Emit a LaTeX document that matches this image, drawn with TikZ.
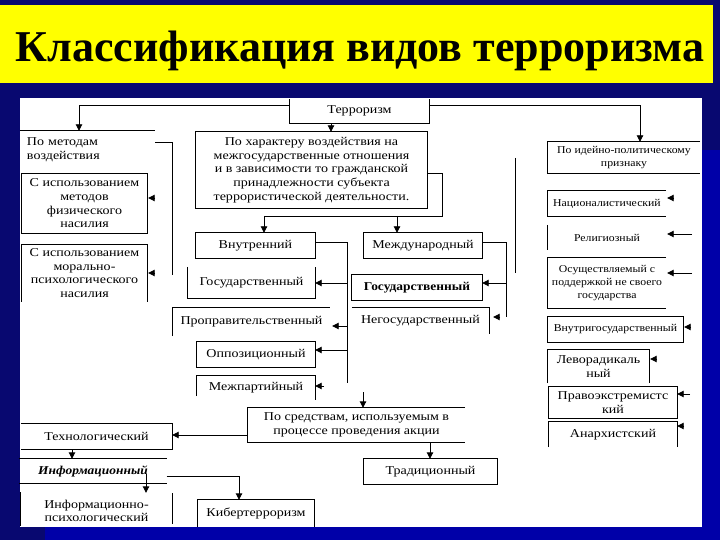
\documentclass[tikz,border=0pt]{standalone}
\usepackage{fontspec}
\setmainfont{Liberation Serif}
\newfontfamily\dgA[FakeStretch=1.17]{Liberation Serif}
\newfontfamily\dgB[FakeStretch=1.12]{Liberation Serif}
\usetikzlibrary{arrows.meta,calc}
\definecolor{navy}{RGB}{8,8,112}
\definecolor{bblue}{RGB}{0,0,168}
\definecolor{ttl}{RGB}{255,255,0}
\begin{document}
\begin{tikzpicture}[x=1pt,y=-1pt,
  ln/.style={line width=0.9pt},
  arr/.style={ln,-{Triangle[length=6.5pt,width=6.5pt]}},
  bx/.style={inner sep=0pt, align=center, font=\dgA\fontsize{12}{13.7}\selectfont},
  bxs/.style={inner sep=0pt, align=center, font=\dgB\fontsize{10.5}{13}\selectfont},
]
% background
\fill[navy] (0,0) rectangle (720,540);
\fill[bblue] (702,150) rectangle (720,527);
\fill[bblue] (45,527) rectangle (720,540);
\fill[ttl] (0,5) rectangle (713,83);
\fill[white] (20,98) rectangle (702,527);
\node[font=\fontsize{44}{48}\selectfont\bfseries, anchor=base] (title) at (360,62) {Классификация видов терроризма};

% nodes
\node[bx, minimum width=139, minimum height=24] (terr) at (359.5,111) {Терроризм};
\node[bx, minimum width=231, minimum height=76] (har) at (311.5,170) {По характеру воздействия на\\межгосударственные отношения\\и в зависимости то гражданской\\принадлежности субъекта\\террористической деятельности.};
\node[bx, minimum width=135, minimum height=38, text width=121, align=left] (metod) at (87.5,150) {По методам\\воздействия};
\node[bx, minimum width=125, minimum height=59] (fiz) at (84.5,203.5) {С использованием\\методов\\физического\\насилия};
\node[bx, minimum width=125, minimum height=57] (mor) at (84.5,273) {С использованием\\морально-\\психологического\\насилия};
\node[bx, minimum width=119, minimum height=25] (vn) at (255.5,245.5) {Внутренний};
\node[bx, minimum width=118, minimum height=25] (mezh) at (423,245.5) {Международный};
\node[bx, minimum width=127, minimum height=31] (gosL) at (251.5,282.5) {Государственный};
\node[bx, minimum width=130, minimum height=25, font=\dgB\fontsize{12}{13.7}\selectfont\bfseries] (gosR) at (417,287.5) {Государственный};
\node[bx, minimum width=157, minimum height=28] (prop) at (251.5,322) {Проправительственный};
\node[bx, minimum width=137, minimum height=26] (negos) at (420.5,321) {Негосударственный};
\node[bx, minimum width=118, minimum height=25] (opp) at (256,354.5) {Оппозиционный};
\node[bx, minimum width=118, minimum height=24] (mp) at (256,388) {Межпартийный};
\node[bx, minimum width=217, minimum height=34] (sred) at (356.5,425) {По средствам, используемым в\\процессе проведения акции};
\node[bx, minimum width=133, minimum height=25] (trad) at (430.5,471.5) {Традиционный};
\node[bx, minimum width=151, minimum height=25] (tech) at (96.5,436.5) {Технологический};
\node[bx, minimum width=147, minimum height=24, font=\dgB\fontsize{12}{13.7}\selectfont\bfseries\itshape] (inf) at (93,471) {Информационный};
\node[bx, minimum width=151, minimum height=36] (infps) at (96.5,511) {Информационно-\\психологический};
\node[bx, minimum width=116, minimum height=27] (kib) at (256,513.5) {Кибертерроризм};
\node[bxs, minimum width=152, minimum height=31] (ideo) at (624,157.5) {По идейно-политическому\\признаку};
\node[bxs, minimum width=118, minimum height=25] (nac) at (607,203.5) {Националистический};
\node[bxs, minimum width=118, minimum height=25] (rel) at (607,237.5) {Религиозный};
\node[bxs, minimum width=118, minimum height=50] (osu) at (607,283) {Осуществляемый с\\поддержкой не своего\\государства};
\node[bxs, minimum width=135, minimum height=25] (vnutrig) at (615.5,329.5) {Внутригосударственный};
\node[bx, minimum width=101, minimum height=33] (lev) at (598.5,366.5) {Леворадикаль\\ный};
\node[bx, minimum width=128, minimum height=31] (pravo) at (613,402.5) {Правоэкстремистс\\кий};
\node[bx, minimum width=128, minimum height=25] (anar) at (613,434.5) {Анархистский};

% borders (open boxes as printed)
\draw[ln] (terr.north west) -- (terr.south west) -- (terr.south east) -- (terr.north east);
\draw[ln] (har.north west) rectangle (har.south east);
\draw[ln] (metod.north west) -- (metod.north east);
\draw[ln] (fiz.north west) rectangle (fiz.south east);
\draw[ln] (mor.south west) -- (mor.north west) -- (mor.north east) -- (mor.south east);
\draw[ln] (vn.north west) rectangle (vn.south east);
\draw[ln] (mezh.north west) rectangle (mezh.south east);
\draw[ln] (gosL.north west) -- (gosL.south west) -- (gosL.south east) -- (gosL.north east);
\draw[ln] (gosR.north west) rectangle (gosR.south east);
\draw[ln] (prop.south west) -- (prop.north west) -- (prop.north east);
\draw[ln] (negos.north west) -- (negos.north east) -- (negos.south east);
\draw[ln] (opp.north west) rectangle (opp.south east);
\draw[ln] ([yshift=-8pt]mp.west) -- (mp.north west) -- (mp.north east) -- (mp.south east);
\draw[ln] (sred.north east) -- (sred.north west) -- (sred.south west) -- (sred.south east);
\draw[ln] (trad.north west) rectangle (trad.south east);
\draw[ln] (tech.north west) -- (tech.north east) -- (tech.south east) -- (tech.south west);
\draw[ln] (inf.north west) -- (inf.north east);
\draw[ln] (inf.south west) -- (inf.south east);
\draw[ln] (infps.north west |- 0,492) -- (infps.west |- 0,526);
\draw[ln] (infps.north east |- 0,493) -- (infps.east |- 0,524);
\draw[ln] (kib.south west) -- (kib.north west) -- (kib.north east) -- (kib.south east);
\draw[ln] (ideo.north east) -- (ideo.north west) -- (ideo.south west) -- (ideo.south east);
\draw[ln] (nac.north east) -- (nac.north west) -- (nac.south west) -- (nac.south east);
\draw[ln] (rel.north west) -- (rel.south west);
\draw[ln] (osu.north east) -- (osu.north west) -- (osu.south west) -- (osu.south east);
\draw[ln] (vnutrig.north west) rectangle (vnutrig.south east);
\draw[ln] (lev.south west) -- (lev.north west) -- (lev.north east) -- (lev.south east);
\draw[ln] (pravo.north west) rectangle (pravo.south east);
\draw[ln] (anar.south west) -- (anar.north west) -- (anar.north east) -- (anar.south east);

% connectors
\draw[arr] (terr.west |- 0,105) -| (metod.north -| 79,0);
\draw[arr] (terr.east |- 0,105) -| (ideo.north -| 640,0);
\draw[arr] (terr.south -| 331,0) -- (har.north -| 331,0);
\draw[ln] (har.east |- 0,173) -| (442,216) -- (264,216);
\draw[arr] (264,216) -- (vn.north -| 264,0);
\draw[arr] (397,216) -- (mezh.north -| 397,0);
% Vnutrenny branch
\draw[ln] (vn.east |- 0,242) -| (347,383);
\draw[arr] (347,283) -- (gosL.east |- 0,283);
\draw[arr] (347,326) -- ([xshift=2pt]prop.east |- 0,326);
\draw[arr] (347,350) -- (opp.east |- 0,350);
\draw[arr] (324,386) -- (mp.east |- 0,386);
% Mezhdunarodny branch
\draw[ln] (mezh.east |- 0,242) -| (506,317);
\draw[arr] (506,283) -- (gosR.east |- 0,283);
\draw[arr] (500,317) -- ([xshift=4pt]negos.east |- 0,317);
% sredstva
\draw[arr] (363,392) -- (sred.north -| 363,0);
\draw[arr] (sred.west |- 0,435) -- (tech.east |- 0,435);
\draw[arr] (sred.south -| 430,0) -- (trad.north -| 430,0);
\draw[arr] (tech.south -| 72,0) -- (inf.north -| 72,0);
\draw[arr] (146,474) -- (infps.north -| 146,0);
\draw[arr] (inf.east |- 0,476) -| (kib.north -| 239,0);
% metody
\draw[ln] (metod.east |- 0,142) -| (172,275);
\draw[arr] (155,198) -- ([xshift=1pt]fiz.east |- 0,198);
\draw[arr] (155,273) -- ([xshift=1pt]mor.east |- 0,273);
% ideo column
\draw[ln] (515,158) -- (515,273);
\draw[arr] (674,198) -- ([xshift=1pt]nac.east |- 0,198);
\draw[arr] (692,234) -- ([xshift=1pt]rel.east |- 0,234);
\draw[arr] (692,273) -- ([xshift=1pt]osu.east |- 0,273);
\draw[arr] (691,327) -- ([xshift=1pt]vnutrig.east |- 0,327);
\draw[arr] (657,359) -- ([xshift=1pt]lev.east |- 0,359);
\draw[arr] (690,394) -- (pravo.east |- 0,394);
\draw[arr] (684,426) -- (anar.east |- 0,426);
\useasboundingbox (0,0) rectangle (720,540);
\end{tikzpicture}
\end{document}
